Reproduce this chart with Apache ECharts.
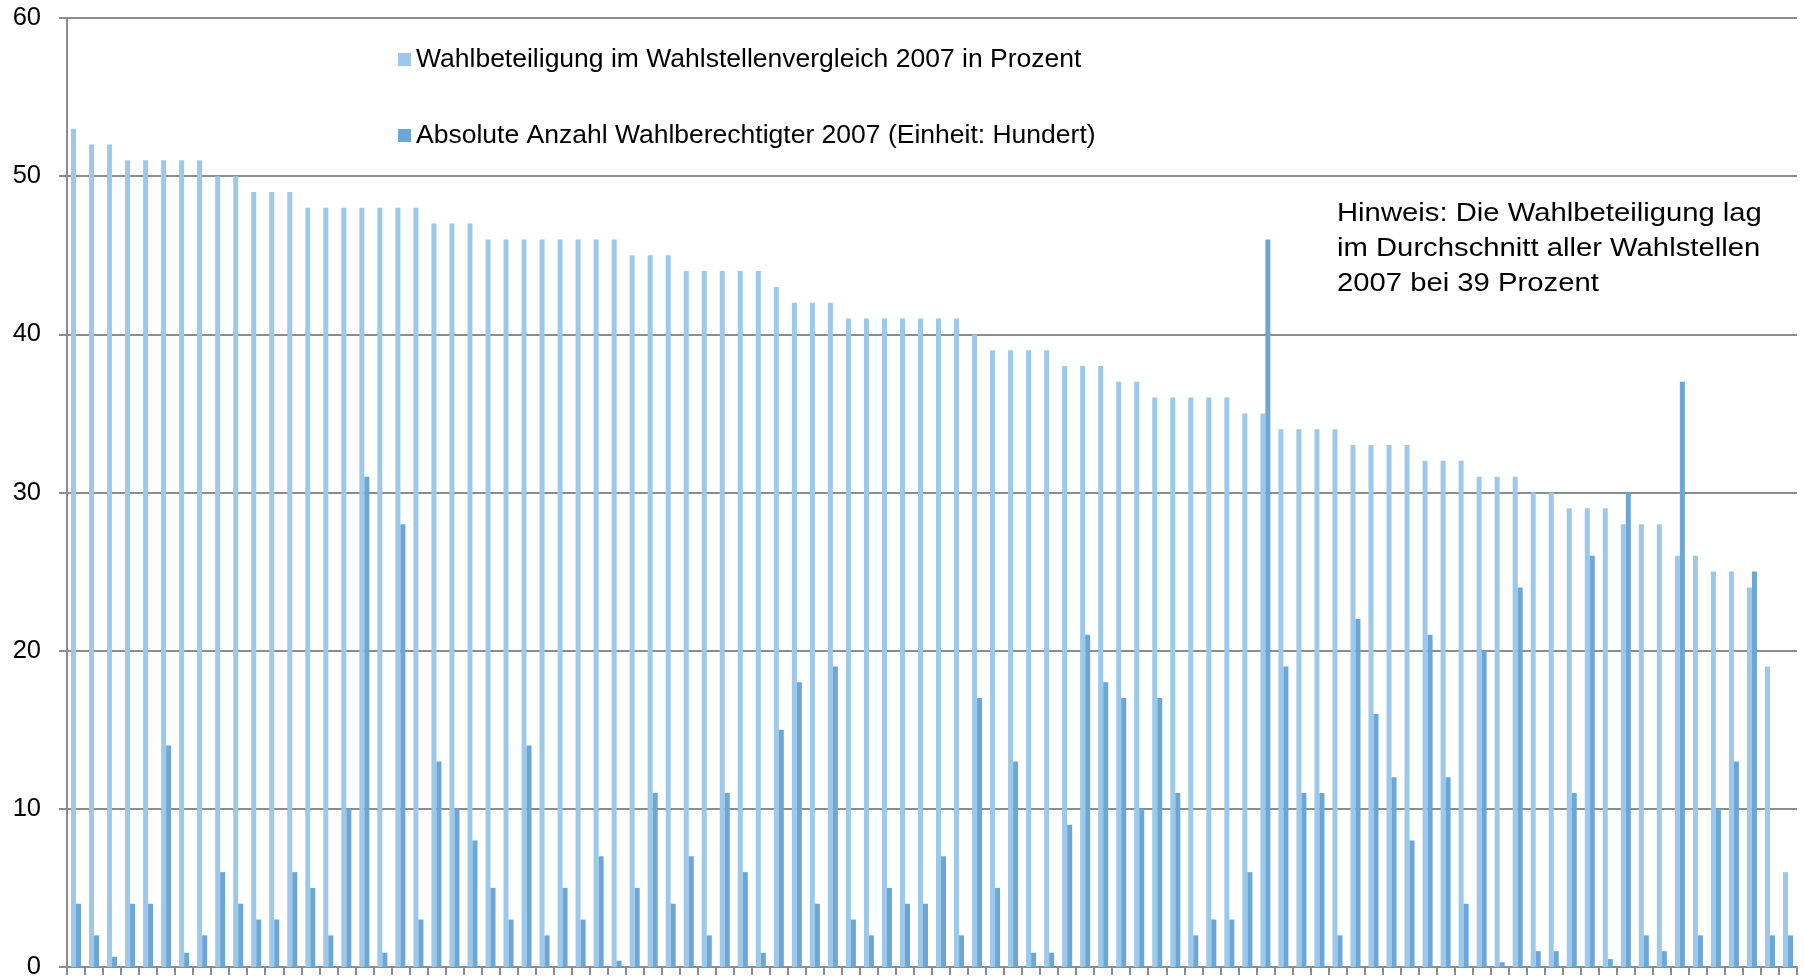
<!DOCTYPE html>
<html>
<head>
<meta charset="utf-8">
<script src="https://cdn.jsdelivr.net/npm/echarts@6/dist/echarts.min.js"></script>
<style>
html,body{margin:0;padding:0;background:#fff;}
#chart{width:1804px;height:980px;}
</style>
</head>
<body>
<div id="chart"></div>
<script>
// Wahlstellen (unlabelled categories), sorted by turnout
const categories = Array.from({length: 96}, (_, i) => 'Wahlstelle ' + (i + 1));

const seriesNames = [
  'Wahlbeteiligung im Wahlstellenvergleich 2007 in Prozent',
  'Absolute Anzahl Wahlberechtigter 2007 (Einheit: Hundert)'
];

// Turnout in percent
const turnout = [
  53, 52, 52, 51, 51, 51, 51, 51, 50, 50,
  49, 49, 49, 48, 48, 48, 48, 48, 48, 48,
  47, 47, 47, 46, 46, 46, 46, 46, 46, 46,
  46, 45, 45, 45, 44, 44, 44, 44, 44, 43,
  42, 42, 42, 41, 41, 41, 41, 41, 41, 41,
  40, 39, 39, 39, 39, 38, 38, 38, 37, 37,
  36, 36, 36, 36, 36, 35, 35, 34, 34, 34,
  34, 33, 33, 33, 33, 32, 32, 32, 31, 31,
  31, 30, 30, 29, 29, 29, 28, 28, 28, 26,
  26, 25, 25, 24, 19, 6
];

// Eligible voters (hundreds)
const eligible = [
  4, 2, 0.65, 4, 4, 14, 0.9, 2, 6, 4,
  3, 3, 6, 5, 2, 10, 31, 0.9, 28, 3,
  13, 10, 8, 5, 3, 14, 2, 5, 3, 7,
  0.4, 5, 11, 4, 7, 2, 11, 6, 0.9, 15,
  18, 4, 19, 3, 2, 5, 4, 4, 7, 2,
  17, 5, 13, 0.9, 0.9, 9, 21, 18, 17, 10,
  17, 11, 2, 3, 3, 6, 46, 19, 11, 11,
  2, 22, 16, 12, 8, 21, 12, 4, 20, 0.3,
  24, 1, 1, 11, 26, 0.5, 30, 2, 1, 37,
  2, 10, 13, 25, 2, 2
];

const yTicks = [0, 10, 20, 30, 40, 50, 60];

const noteLines = [
  'Hinweis: Die Wahlbeteiligung lag',
  'im Durchschnitt aller Wahlstellen',
  '2007 bei 39 Prozent'
];

const FONT = '"Liberation Sans", Arial, sans-serif';
const chart = echarts.init(document.getElementById('chart'), null, {renderer: 'canvas'});

chart.setOption({
  animation: false,
  backgroundColor: '#ffffff',
  textStyle: {fontFamily: FONT},
  grid: {left: 67, right: 7, top: 18, bottom: 9, containLabel: false},
  legend: {
    orient: 'vertical',
    left: 393,
    top: 41,
    itemWidth: 13,
    itemHeight: 13,
    itemGap: 49,
    icon: 'rect',
    textStyle: {fontFamily: FONT, fontSize: 26.5, color: '#000', lineHeight: 26},
    data: seriesNames
  },
  xAxis: {
    type: 'category',
    data: categories,
    boundaryGap: true,
    axisLine: {show: true, lineStyle: {color: '#8c8c8c', width: 2}},
    axisTick: {show: true, length: 8, inside: false, alignWithLabel: false, interval: 0, lineStyle: {color: '#8c8c8c', width: 2}},
    axisLabel: {show: false},
    splitLine: {show: false}
  },
  yAxis: {
    type: 'value',
    min: yTicks[0],
    max: yTicks[yTicks.length - 1],
    interval: 10,
    axisLine: {show: true, lineStyle: {color: '#8c8c8c', width: 2}},
    axisTick: {show: true, length: 8, lineStyle: {color: '#8c8c8c', width: 2}},
    axisLabel: {margin: 26, fontFamily: FONT, fontSize: 25.5, color: '#000'},
    splitLine: {show: true, lineStyle: {color: '#8c8c8c', width: 2}}
  },
  series: [
    {
      name: seriesNames[0],
      type: 'bar',
      data: turnout,
      barWidth: 5,
      barGap: '0%',
      itemStyle: {color: '#9cc8ea'}
    },
    {
      name: seriesNames[1],
      type: 'bar',
      data: eligible,
      barWidth: 5,
      barGap: '0%',
      itemStyle: {color: '#6ca6d6'}
    }
  ],
  graphic: [
    {
      type: 'text',
      x: 1337,
      y: 197,
      scaleX: 1.17,
      scaleY: 1,
      style: {
        text: noteLines.join('\n'),
        font: '25px ' + FONT,
        fill: '#000',
        lineHeight: 35,
        textVerticalAlign: 'top',
        verticalAlign: 'top',
        align: 'left'
      }
    }
  ]
});
</script>
</body>
</html>
